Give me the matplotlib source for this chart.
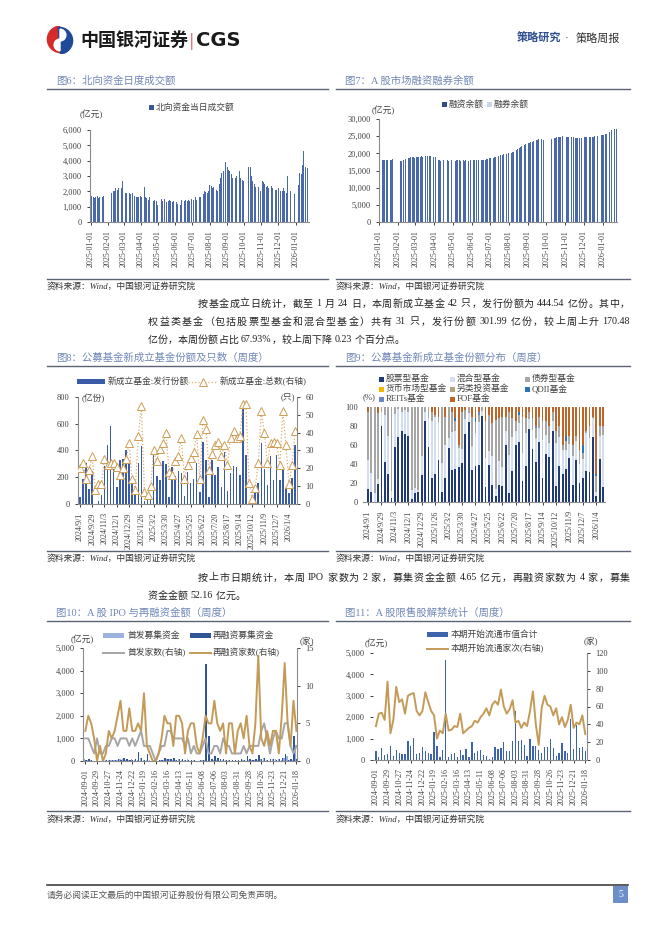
import re
import matplotlib
matplotlib.use('Agg')
import matplotlib.pyplot as plt
import matplotlib.dates as mdates
from matplotlib.ticker import FuncFormatter
from matplotlib.patches import Rectangle, Wedge
from matplotlib.lines import Line2D
import numpy as np
import pandas as pd

plt.rcParams['font.family'] = ['Liberation Serif', 'Noto Sans CJK SC', 'DejaVu Sans']

# ---------------- data ----------------
# 图6 北向资金当日成交额(亿元), 每个交易日
holidays = ['2025-01-01', '2025-01-27', '2025-01-28', '2025-01-29', '2025-01-30', '2025-01-31',
            '2025-02-03', '2025-02-04', '2025-04-04', '2025-04-18', '2025-04-21', '2025-05-01',
            '2025-05-02', '2025-05-05', '2025-06-02', '2025-07-01', '2025-10-01', '2025-10-02',
            '2025-10-03', '2025-10-06', '2025-10-07', '2025-10-08', '2025-10-29', '2025-12-25',
            '2025-12-26', '2026-01-01']
northbound = [
    1950, 1700, 1650, 1500, 1550, 1650, 1600, 1700, 1650, 1550, 1500, 1600, 1700, 1550, 1600, 1800, 1700,
    2000, 2300, 1900, 1950, 2000, 2100, 2050, 2200, 2000, 2100, 2300, 2200, 2400, 2350, 2200, 2500, 2700, 2400,
    2200, 1900, 2100, 1900, 2000, 1950, 1900, 1800, 1850, 1750, 1900, 2000, 1800, 1700, 1750, 1600, 1700,
    1650, 1600, 1550, 1700,
    1550, 1600, 2750, 2300, 1800, 1600, 1500, 1550, 1450, 1400, 1600, 1450, 1400, 1350, 1300, 1450, 1400,
    1350, 1100,
    1400, 1500, 1450, 1400, 1350, 1500, 1450, 1400, 1300, 1350, 1400, 1550, 1450, 1400, 1350, 1300, 1400,
    1350, 1300,
    1300, 1250, 1200, 1300, 1250, 1100, 1200, 1450, 1500, 1400, 1350, 1500, 1450, 2100, 1400, 1450, 1500,
    1400, 1550, 1500,
    1500, 1450, 1700, 1600, 1500, 1450, 1550, 1600, 1650, 1500, 1600, 1700, 2400, 1800, 1900, 2000, 2050,
    1950, 1900, 2100, 2000, 2000,
    2400, 2350, 2300, 2200, 2400, 2300, 2500, 2300, 2100, 2000, 2000, 2200, 2500, 2900, 3000, 3200, 3100,
    3300, 3700, 4000, 3900,
    3800, 3600, 3500, 3400, 3300, 3200, 3100, 3000, 2900, 2800, 2900, 2850, 2800, 3000, 3200, 3700, 3300,
    3000, 2900, 2800, 2750, 2700,
    3600, 3500, 3600, 3300, 3000, 2700, 2600, 2500, 2400, 2300, 2200, 2100, 2300, 2200, 2100, 2000,
    2700, 2800, 2600, 2400, 2500, 2300, 2400, 2350, 2300, 2200, 2300, 2400, 2350, 2300, 2200, 2100, 2000,
    2100, 2200, 2100,
    2000, 2200, 2300, 2100, 2000, 1900, 2000, 2100, 2200, 2050, 1950, 1900, 1850, 3000, 2200, 2100, 2000,
    2050, 1900, 1800, 1750,
    2300, 2200, 2400, 3000, 3200, 3300, 3100, 3700, 3600, 4600, 4000, 3600, 3300, 3200, 3500, 3700,
]

# 图7 融资余额(亿元), 每个交易日
margin = [
    18300, 18200, 18100, 18100, 18050, 18000, 18000, 17950, 18000, 18050, 18100, 18100, 18150, 18100, 18200,
    18250, 18300,
    17800, 17850, 17900, 18000, 18100, 18200, 18300, 18400, 18450, 18500, 18600, 18700, 18800, 18850, 18900,
    18850, 18800, 18700,
    18800, 18900, 18950, 19000, 19000, 19050, 19100, 19050, 19000, 19100, 19200, 19300, 19350, 19400, 19300,
    19200, 19250, 19300, 19200, 19100, 19000,
    19000, 19100, 19000, 18500, 18100, 18000, 17950, 17900, 17950, 18000, 17950, 17900, 18000, 17950, 17900,
    17950, 18000, 17950, 17900,
    17900, 17950, 18000, 18050, 18000, 17950, 17900, 17950, 18000, 17950, 17900, 17950, 18000, 18000, 17950,
    17900, 17950, 18000, 17950,
    18000, 17950, 17900, 17950, 18000, 18050, 18000, 18100, 18050, 18000, 17950, 18000, 18050, 18100, 18150,
    18200, 18300, 18350, 18400, 18500,
    18500, 18600, 18700, 18700, 18800, 18900, 19000, 19050, 19100, 19200, 19300, 19400, 19500, 19600, 19700,
    19750, 19800, 19850, 19900, 19950, 20000, 20100,
    20000, 20050, 20100, 20200, 20300, 20500, 20700, 20900, 21000, 21100, 21300, 21500, 21600, 21800, 22000,
    22100, 22200, 22400, 22500, 22600, 22700,
    22800, 22900, 23000, 23100, 23200, 23300, 23400, 23500, 23600, 23700, 23800, 23900, 24000, 24100, 24100,
    24000, 24050, 24100, 24100, 24000, 23950, 23900,
    24200, 24300, 24400, 24500, 24600, 24600, 24700, 24700, 24800, 24800, 24900, 24900, 25000, 25000, 24900,
    24900,
    24900, 24900, 24850, 24800, 24800, 24750, 24800, 24850, 24800, 24700, 24600, 24500, 24400, 24400, 24450,
    24500, 24500, 24550, 24600, 24600,
    24600, 24650, 24700, 24700, 24750, 24800, 24800, 24850, 24800, 24750, 24700, 24800, 24900, 24950, 25000,
    25050, 25100, 25150, 25200, 25300, 25300,
    25400, 25500, 25600, 25700, 25900, 26000, 26200, 26400, 26500, 26700, 26800, 26900, 27000, 27000, 27100,
    27000,
]

# 图8 / 图9 周度
fund_ticks = ['2024/9/1', '2024/9/29', '2024/11/3', '2024/12/1', '2024/12/29', '2025/1/26', '2025/3/2',
              '2025/3/30', '2025/4/27', '2025/5/25', '2025/6/22', '2025/7/20', '2025/8/17', '2025/9/14',
              '2025/10/12', '2025/11/9', '2025/12/7', '2026/1/4']
fund_shares = [50, 190, 310, 110, 250, 0, 20, 70, 285, 440, 585, 265, 130, 330, 340, 405, 310, 200, 70, 305,
               435, 20, 30, 50, 390, 210, 180, 320, 300, 50, 280, 210, 245, 230, 60, 240, 160, 190, 310, 90,
               460, 330, 55, 330, 215, 280, 130, 390, 100, 230, 285, 280, 215, 740, 370, 0, 10, 95, 160, 455,
               265, 140, 360, 180, 365, 180, 280, 120, 85, 195, 440]
fund_counts = [20, 23, 14, 19, 27, 8, 11, 11, 25, 22, 23, 23, 21, 16, 20, 25, 34, 14, 8, 38,
               55, 7, 5, 10, 30, 24, 31, 34, 40, 18, 16, 24, 27, 37, 14, 22, 26, 29, 39, 14,
               47, 42, 19, 28, 33, 35, 27, 33, 22, 37, 41, 37, 38, 56, 56, 12, 3, 9, 23, 52,
               40, 23, 34, 35, 34, 22, 52, 33, 11, 22, 41]

share_stock = [14, 11, 0, 19, 80, 42, 29, 4, 58, 68, 75, 72, 70, 3, 10, 11, 28, 85, 58, 25,
               29, 44, 11, 25, 57, 34, 35, 37, 41, 72, 84, 34, 38, 39, 91, 16, 39, 18, 6, 18,
               17, 60, 9, 33, 60, 63, 22, 38, 77, 56, 42, 63, 25, 51, 47, 75, 17, 38, 30, 35,
               46, 18, 44, 20, 25, 33, 32, 68, 6, 45, 16]
share_mixed = [30, 20, 10, 5, 15, 50, 40, 8, 35, 30, 20, 25, 25, 10, 5, 2, 20, 10, 30, 60,
               60, 40, 30, 35, 10, 40, 40, 20, 15, 15, 10, 25, 35, 45, 5, 30, 15, 30, 8, 25,
               20, 15, 40, 35, 15, 20, 30, 35, 10, 20, 25, 15, 40, 20, 15, 10, 45, 30, 25, 20,
               15, 30, 20, 20, 20, 40, 35, 20, 5, 25, 55]
share_bond = [51, 69, 90, 70, 5, 8, 31, 88, 7, 2, 5, 3, 5, 87, 85, 87, 52, 5, 12, 10,
              3, 6, 59, 30, 33, 21, 10, 3, 39, 10, 6, 31, 11, 8, 4, 39, 38, 35, 72, 45,
              53, 15, 46, 20, 10, 9, 38, 15, 8, 12, 11, 12, 20, 14, 18, 10, 13, 12, 5, 9,
              9, 12, 6, 15, 7, 2, 13, 2, 16, 10, 9]
share_money = [0] * 71
share_other = [0] * 71
share_qdii = [0, 0, 0, 0, 0, 0, 0, 0, 0, 0, 0, 0, 0, 0, 0, 0, 0, 0, 0, 0,
              0, 0, 0, 0, 0, 0, 3, 0, 0, 0, 0, 0, 4, 0, 0, 0, 0, 0, 0, 0,
              0, 0, 0, 0, 0, 3, 0, 0, 0, 0, 0, 0, 0, 0, 0, 0, 0, 0, 0, 6,
              0, 0, 0, 0, 8, 0, 0, 0, 3, 0, 0]
share_reits = [0, 0, 0, 0, 0, 0, 0, 0, 0, 0, 0, 0, 0, 0, 0, 0, 0, 0, 0, 0,
               0, 0, 0, 0, 0, 0, 0, 0, 0, 0, 0, 0, 0, 3, 0, 0, 0, 0, 0, 0,
               0, 0, 0, 0, 0, 0, 0, 0, 0, 0, 2, 0, 0, 0, 0, 0, 0, 0, 0, 0,
               0, 0, 0, 0, 0, 0, 0, 0, 0, 0, 0]
share_fof = [5, 0, 0, 6, 0, 0, 0, 0, 0, 0, 0, 0, 0, 0, 0, 0, 0, 0, 0, 5,
             8, 10, 0, 10, 0, 5, 12, 40, 5, 3, 0, 10, 12, 5, 0, 15, 8, 17, 14, 12,
             10, 10, 5, 12, 15, 5, 10, 12, 5, 12, 20, 10, 15, 15, 20, 5, 25, 20, 40, 30,
             30, 40, 30, 45, 40, 25, 20, 10, 70, 20, 20]

# 图10 / 图11 周度
week_ticks = ['2024-09-01', '2024-09-29', '2024-10-27', '2024-11-24', '2024-12-22', '2025-01-19',
              '2025-02-16', '2025-03-16', '2025-04-13', '2025-05-11', '2025-06-08', '2025-07-06',
              '2025-08-03', '2025-08-31', '2025-09-28', '2025-10-26', '2025-11-23', '2025-12-21',
              '2026-01-18']
ipo_funds = [80, 60, 40, 10, 60, 20, 10, 30, 30, 50, 60, 40, 100, 70, 60, 30, 80, 40, 60, 120,
             30, 40, 30, 10, 0, 10, 40, 30, 80, 100, 60, 50, 70, 60, 40, 80, 20, 30, 10, 10,
             40, 60, 20, 10, 30, 40, 20, 60, 30, 40, 10, 20, 10, 20, 40, 10, 30, 50, 40, 30,
             90, 150, 60, 20, 80, 100, 70, 60, 150, 200, 60, 30, 700]
refi_funds = [50, 100, 30, 20, 60, 10, 20, 30, 60, 40, 50, 80, 40, 150, 100, 60, 60, 80, 380, 150,
              50, 300, 20, 0, 10, 30, 50, 150, 100, 80, 120, 60, 100, 80, 50, 60, 30, 40, 20, 30,
              60, 4300, 1100, 100, 200, 150, 100, 80, 60, 50, 40, 60, 50, 80, 60, 200, 100, 50, 80, 250,
              100, 150, 60, 80, 100, 60, 80, 120, 300, 60, 80, 1100, 100]
ipo_count = [3, 3, 2, 1, 3, 1, 1, 2, 2, 3, 3, 2, 3, 3, 3, 2, 3, 2, 3, 4,
             2, 2, 2, 1, 0, 1, 2, 2, 4, 4, 3, 3, 3, 3, 2, 3, 1, 2, 1, 1,
             2, 3, 1, 1, 2, 2, 1, 3, 2, 2, 1, 1, 1, 1, 2, 1, 2, 2, 2, 2,
             4, 5, 3, 1, 3, 4, 3, 3, 5, 5, 2, 1, 2]
refi_count = [4, 6, 5, 3, 0, 2, 0, 1, 4, 3, 4, 6, 8, 4, 4, 7, 4, 4, 5, 4,
              9, 2, 1, 0, 0, 1, 3, 6, 5, 5, 2, 6, 6, 5, 1, 4, 5, 5, 2, 1,
              3, 6, 5, 5, 8, 5, 4, 5, 1, 5, 5, 1, 4, 5, 3, 6, 2, 1, 5, 14,
              3, 2, 4, 2, 4, 4, 1, 6, 13, 5, 2, 8, 4]
unlock_value = [400, 150, 550, 250, 300, 650, 200, 450, 350, 300, 300, 900, 650, 1050, 300, 350, 600, 400,
                350, 300, 1300, 650, 150, 450, 4650, 150, 300, 350, 150, 450, 250, 500, 150, 850, 350, 400,
                450, 250, 200, 50, 150, 600, 500, 550, 850, 400, 400, 900, 2300, 900, 950, 700, 200, 1000,
                650, 650, 450, 350, 600, 600, 1000, 550, 200, 350, 800, 400, 350, 1900, 500, 1650, 550,
                600, 400]
unlock_count = [38, 52, 53, 45, 88, 30, 45, 82, 65, 68, 52, 72, 74, 75, 55, 50, 55, 76, 65, 55,
                50, 24, 33, 30, 52, 33, 34, 38, 37, 52, 30, 33, 36, 38, 44, 42, 48, 52, 58, 50,
                62, 66, 62, 79, 60, 52, 57, 67, 42, 44, 36, 42, 38, 55, 77, 40, 17, 58, 72, 62,
                60, 50, 58, 40, 48, 37, 45, 62, 36, 42, 40, 50, 29]

# ---------------- layout helpers ----------------
W, H = 662, 936
fig = plt.figure(figsize=(W / 100, H / 100), dpi=100)
renderer = fig.canvas.get_renderer()

TICK = '#404040'
SPINE = '#8c8c8c'
TITLE = '#6f87b7'


def box(x0, y0, x1, y1):
    return fig.add_axes([x0 / W, 1 - y1 / H, (x1 - x0) / W, (y1 - y0) / H])


def txt(x, y, s, **kw):
    kw.setdefault('va', 'center')
    return fig.text(x / W, 1 - y / H, s, **kw)


def hline(x0, x1, y, color='#5b6475', lw=1.0):
    fig.add_artist(Line2D([x0 / W, x1 / W], [1 - y / H, 1 - y / H], color=color, lw=lw))


def rect(x0, y0, w, h, color):
    fig.add_artist(Rectangle((x0 / W, 1 - (y0 + h) / H), w / W, h / H, color=color, lw=0))


def para(x0, y, s, x1=None, size=7.2):
    # 正文一行：逐字放置，需要时两端对齐
    parts = re.findall(r'[A-Za-z0-9.%]+| +|[^ ]', s)
    items = []
    for p in parts:
        if p.strip() == '':
            items.append((None, size * 100 / 72 * 0.28 * len(p)))
        else:
            t = txt(0, y, p, fontsize=size, color='#222222')
            items.append((t, t.get_window_extent(renderer).width))
    natural = sum(w for _, w in items)
    ngap = len([1 for t, _ in items if t is not None]) - 1
    extra = (x1 - x0 - natural) / ngap if x1 else 0
    x = x0
    for t, w in items:
        if t is None:
            x += w
            continue
        t.set_x(x / W)
        x += w + extra


def style(ax, left=True, right=False):
    ax.spines['top'].set_visible(False)
    ax.spines['right'].set_visible(right)
    ax.spines['left'].set_visible(left)
    for s in ['left', 'right', 'bottom']:
        ax.spines[s].set_color(SPINE)
        ax.spines[s].set_linewidth(0.8)
    ax.tick_params(labelsize=6, colors=TICK, length=2.5, width=0.7)
    ax.tick_params(axis='x', labelrotation=90, labelsize=5.8)
    ax.set_facecolor('none')


comma = FuncFormatter(lambda v, p: f'{v:,.0f}')


def frame(x0, x1, ytitle, yline, ysrc_line, ysrc, title):
    txt(x0 + 9, ytitle, title, color=TITLE, fontsize=7.5)
    hline(x0, x1, yline)
    hline(x0, x1, ysrc_line)
    txt(x0, ysrc, '资料来源：Wind，中国银河证券研究院', color='#333333', fontsize=6.3, style='italic')


# ---------------- header ----------------
lax = box(44, 26, 76, 54)
lax.set_xlim(-1, 1)
lax.set_ylim(-1, 1)
lax.set_aspect('equal')
lax.axis('off')
lax.add_patch(Wedge((0.05, 0.05), 0.95, 95, 275, color='#d52b2b'))
lax.add_patch(Wedge((-0.05, -0.05), 0.95, -85, 95, color='#1f4a99'))
lax.add_patch(Wedge((0.0, 0.35), 0.42, -90, 90, color='white'))
lax.add_patch(Wedge((0.0, -0.35), 0.42, 90, 270, color='white'))

txt(80, 41, '中国银河证券', fontsize=13, fontweight='bold', color='#1a1a1a')
txt(190, 41, '|', fontsize=13, color='#d52b2b')
txt(196, 41, 'CGS', fontsize=14, fontweight='bold', color='#1a1a1a', family='DejaVu Sans')
txt(517, 38, '策略研究', fontsize=8, fontweight='bold', color='#2f4f8f')
txt(567, 38, '·', fontsize=8, color='#2f4f8f', ha='center')
txt(576, 38, '策略周报', fontsize=8, color='#333333')

# ---------------- paragraph text ----------------
para(198, 304, '按基金成立日统计，截至 1 月 24 日，本周新成立基金 42 只，发行份额为 444.54 亿份。其中，', x1=630)
para(148, 322, '权益类基金（包括股票型基金和混合型基金）共有 31 只，发行份额 301.99 亿份，较上周上升 170.48', x1=630)
para(148, 340, '亿份，本周份额占比 67.93%，较上周下降 0.23 个百分点。')
para(198, 578, '按上市日期统计，本周 IPO 家数为 2 家，募集资金金额 4.65 亿元，再融资家数为 4 家，募集', x1=630)
para(148, 596, '资金金额 52.16 亿元。')

# ---------------- 图6 ----------------
frame(47, 328, 81, 89, 279, 286, '图6：北向资金日度成交额')
days = pd.bdate_range('2025-01-01', '2026-01-23')
days = days[~days.isin(pd.to_datetime(holidays))]
ax = box(90, 130, 309, 222)
ax.bar(days[:len(northbound)], northbound, width=0.85, color='#4a69aa', lw=0)
ax.set_ylim(0, 6000)
ax.set_yticks(range(0, 6001, 1000))
ax.yaxis.set_major_formatter(comma)
ax.set_xlim(pd.Timestamp('2024-12-31'), pd.Timestamp('2026-01-25'))
ax.set_xticks(pd.date_range('2025-01-01', '2026-01-01', freq='MS'))
ax.xaxis.set_major_formatter(mdates.DateFormatter('%Y-%m-%d'))
style(ax)
txt(80, 114, '(亿元)', fontsize=6.3, color=TICK)
rect(149, 105, 5, 5, '#3b5797')
txt(156, 107.5, '北向资金当日成交额', fontsize=6.3, color=TICK)

# ---------------- 图7 ----------------
frame(336, 630, 81, 89, 279, 286, '图7：A 股市场融资融券余额')
ax = box(379, 119, 617, 222)
ax.bar(days[:len(margin)], margin, width=0.8, color='#4a69aa', lw=0)
ax.set_ylim(0, 30000)
ax.set_yticks(range(0, 30001, 5000))
ax.yaxis.set_major_formatter(comma)
ax.set_xlim(pd.Timestamp('2025-01-01'), pd.Timestamp('2026-01-24'))
ax.set_xticks(pd.date_range('2025-01-01', '2026-01-01', freq='MS'))
ax.xaxis.set_major_formatter(mdates.DateFormatter('%Y-%m-%d'))
style(ax)
txt(372, 110, '(亿元)', fontsize=6.3, color=TICK)
rect(442, 102, 5, 5, '#2f4b8c')
txt(449, 104.5, '融资余额', fontsize=6.3, color=TICK)
rect(487, 102, 5, 5, '#c9d6ec')
txt(494, 104.5, '融券余额', fontsize=6.3, color=TICK)

# ---------------- 图8 ----------------
frame(47, 328, 358, 366, 551, 558, '图8：公募基金新成立基金份额及只数（周度）')
x = np.arange(len(fund_shares))
ax = box(78, 397, 297, 504)
ax.bar(x, fund_shares, width=0.5, color='#3a5ca8', lw=0)
ax.set_ylim(0, 800)
ax.set_yticks(range(0, 801, 200))
ax.set_xlim(-0.6, 70.6)
ax.set_xticks(range(0, 69, 4))
ax.set_xticklabels(fund_ticks)
style(ax, right=False)
ax2 = ax.twinx()
ax2.plot(x, fund_counts, ls=':', lw=0.9, color='#dcae6c', marker='^', ms=5.5,
         mfc='white', mec='#cf9d55', mew=0.7)
ax2.set_ylim(0, 60)
ax2.set_yticks(range(0, 61, 10))
style(ax2, left=False, right=True)
ax2.spines['bottom'].set_visible(False)
txt(82, 398, '(亿份)', fontsize=6.3, color=TICK)
txt(281, 398, '(只)', fontsize=6.3, color=TICK)
rect(77, 379, 28, 5, '#3a5ca8')
txt(108, 381.5, '新成立基金:发行份额', fontsize=6.3, color=TICK)
fig.add_artist(Line2D([188 / W, 217 / W], [1 - 381.5 / H] * 2, ls=':', lw=0.9, color='#dcae6c'))
fig.add_artist(Line2D([202.5 / W], [1 - 381.5 / H], marker='^', ms=5.5, mfc='white', mec='#cf9d55', mew=0.7))
txt(220, 381.5, '新成立基金:总数(右轴)', fontsize=6.3, color=TICK)

# ---------------- 图9 ----------------
frame(336, 630, 358, 366, 551, 558, '图9：公募基金新成立基金份额分布（周度）')
ax = box(363, 407, 605, 502)
layers = [('股票型基金', share_stock, '#203a78'), ('混合型基金', share_mixed, '#d3dff0'),
          ('债券型基金', share_bond, '#a6a6a6'), ('货币市场型基金', share_money, '#f5b800'),
          ('另类投资基金', share_other, '#b3a27a'), ('QDII基金', share_qdii, '#2e75b6'),
          ('REITs基金', share_reits, '#6b86c2'), ('FOF基金', share_fof, '#c0652a')]
bottom = np.zeros(len(share_stock))
for name, vals, col in layers:
    ax.bar(x, vals, bottom=bottom, width=0.55, color=col, lw=0)
    bottom = bottom + np.array(vals)
ax.set_ylim(0, 100)
ax.set_yticks(range(0, 101, 20))
ax.set_xlim(-1.5, 70.6)
ax.set_xticks(range(0, 69, 4))
ax.set_xticklabels(fund_ticks)
style(ax, left=False)
ax.tick_params(axis='y', length=0)
txt(363, 397, '(%)', fontsize=6.3, color=TICK)
cols = [381, 452, 527]
rows = [379, 389, 399]
for k, (name, vals, col) in enumerate(layers):
    cx, cy = cols[k % 3], rows[k // 3]
    rect(cx - 2.5, cy - 2.5, 5, 5, col)
    txt(cx + 5, cy, name, fontsize=6.3, color=TICK)

# ---------------- 图10 ----------------
frame(47, 328, 613, 621, 811, 819, '图10：A 股 IPO 与再融资金额（周度）')
xw = np.arange(len(refi_count))
ax = box(83, 648, 297, 761)
ax.bar(xw - 0.2, ipo_funds, width=0.45, color='#9bb3dd', lw=0)
ax.bar(xw + 0.2, refi_funds, width=0.45, color='#2f5597', lw=0)
ax.set_ylim(0, 5000)
ax.set_yticks(range(0, 5001, 1000))
ax.yaxis.set_major_formatter(comma)
ax.set_xlim(-0.8, 72.2)
ax.set_xticks(range(0, 73, 4))
ax.set_xticklabels(week_ticks)
style(ax)
ax2 = ax.twinx()
ax2.plot(xw, ipo_count, color='#a6a6a6', lw=1.4)
ax2.plot(xw, refi_count, color='#c49a57', lw=1.4)
ax2.set_ylim(0, 15)
ax2.set_yticks(range(0, 16, 5))
style(ax2, left=False, right=True)
ax2.spines['bottom'].set_visible(False)
txt(71, 639, '(亿元)', fontsize=6.3, color=TICK)
txt(300, 642, '(家)', fontsize=6.3, color=TICK)
rect(103, 633, 21, 5, '#9bb3dd')
txt(127, 635.5, '首发募集资金', fontsize=6.3, color=TICK)
rect(190, 633, 21, 5, '#2f5597')
txt(213, 635.5, '再融资募集资金', fontsize=6.3, color=TICK)
fig.add_artist(Line2D([103 / W, 124 / W], [1 - 653 / H] * 2, color='#a6a6a6', lw=1.4))
txt(127, 653, '首发家数(右轴)', fontsize=6.3, color=TICK)
fig.add_artist(Line2D([190 / W, 211 / W], [1 - 653 / H] * 2, color='#c49a57', lw=1.4))
txt(213, 653, '再融资家数(右轴)', fontsize=6.3, color=TICK)

# ---------------- 图11 ----------------
frame(336, 630, 613, 621, 811, 819, '图11：A 股限售股解禁统计（周度）')
ax = box(373, 653, 587, 760)
ax.bar(xw, unlock_value, width=0.45, color='#3d63ad', lw=0)
ax.set_ylim(0, 5000)
ax.set_yticks(range(0, 5001, 1000))
ax.yaxis.set_major_formatter(comma)
ax.set_xlim(-1.0, 72.6)
ax.set_xticks(range(0, 73, 4))
ax.set_xticklabels(week_ticks)
style(ax, left=False)
ax2 = ax.twinx()
ax2.plot(xw, unlock_count, color='#c49a57', lw=1.4)
ax2.set_ylim(0, 120)
ax2.set_yticks(range(0, 121, 20))
style(ax2, left=False, right=True)
ax2.spines['bottom'].set_visible(False)
txt(365, 643, '(亿元)', fontsize=6.3, color=TICK)
txt(584, 642, '(家)', fontsize=6.3, color=TICK)
rect(427, 632, 21, 5, '#3d63ad')
txt(451, 634.5, '本期开始流通市值合计', fontsize=6.3, color=TICK)
fig.add_artist(Line2D([427 / W, 448 / W], [1 - 649 / H] * 2, color='#c49a57', lw=1.4))
txt(451, 649, '本期开始流通家次(右轴)', fontsize=6.3, color=TICK)

# ---------------- footer ----------------
hline(47, 628, 885, color='#404040', lw=1.2)
txt(47, 895, '请务必阅读正文最后的中国银河证券股份有限公司免责声明。', fontsize=6.3, color='#555555')
rect(613, 886, 15, 17, '#6d8fc9')
txt(620.5, 894.5, '5', fontsize=7, color='white', ha='center')

fig.savefig('out.png', dpi=100)
